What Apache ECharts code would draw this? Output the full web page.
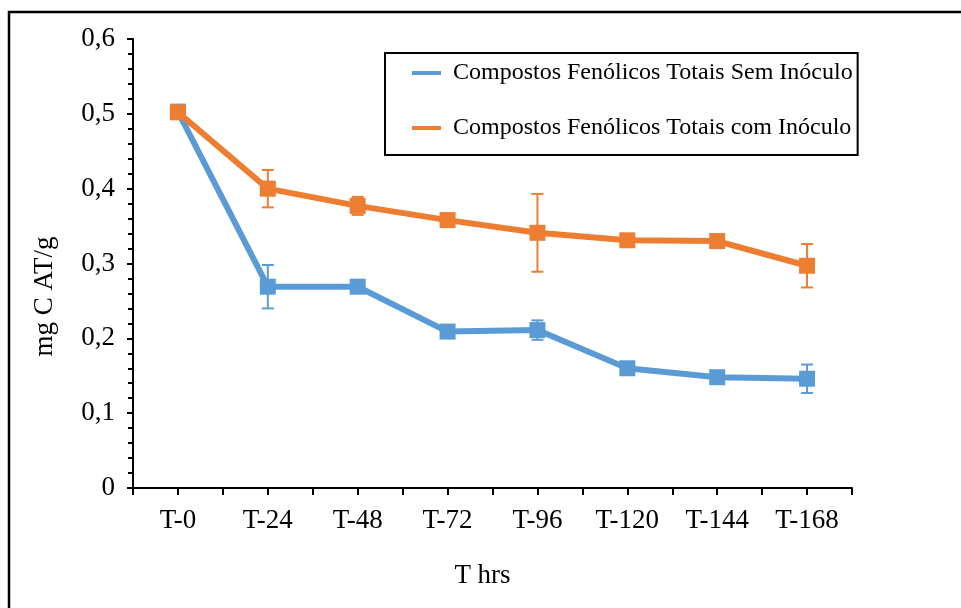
<!DOCTYPE html>
<html>
<head>
<meta charset="utf-8">
<script src="https://cdn.jsdelivr.net/npm/echarts@6/dist/echarts.min.js"></script>
<style>html,body{margin:0;padding:0;background:#fff}#c{width:961px;height:608px}</style>
</head>
<body>
<div id="c"></div>
<script>
const categories = ['T-0','T-24','T-48','T-72','T-96','T-120','T-144','T-168'];
const semName = 'Compostos Fenólicos Totais Sem Inóculo';
const comName = 'Compostos Fenólicos Totais com Inóculo';
const semValues = [0.503, 0.269, 0.269, 0.209, 0.211, 0.160, 0.148, 0.146];
const semErrors = [0.003, 0.029, 0.004, 0.005, 0.013, 0.005, 0.004, 0.019];
const comValues = [0.502, 0.400, 0.377, 0.358, 0.341, 0.331, 0.330, 0.297];
const comErrors = [0.003, 0.025, 0.012, 0.006, 0.052, 0.005, 0.004, 0.029];
const xAxisName = 'T hrs';
const yAxisName = 'mg C AT/g';

const FONT = "'Liberation Serif','Times New Roman',serif";
const BLUE = '#5B9BD5';
const ORANGE = '#ED7D31';

function errData(vals, errs) {
  return vals.map((v, i) => [i, v - errs[i], v + errs[i]]);
}
function errSeries(vals, errs, color) {
  return {
    type: 'custom',
    xAxisIndex: 0,
    yAxisIndex: 0,
    silent: true,
    z: 1,
    data: errData(vals, errs),
    renderItem: function (params, api) {
      const x = api.value(0);
      const lo = api.coord([x, api.value(1)]);
      const hi = api.coord([x, api.value(2)]);
      const w = 6;
      const st = {stroke: color, lineWidth: 2};
      return {
        type: 'group',
        children: [
          {type: 'line', shape: {x1: lo[0], y1: lo[1], x2: hi[0], y2: hi[1]}, style: st},
          {type: 'line', shape: {x1: lo[0]-w, y1: lo[1], x2: lo[0]+w, y2: lo[1]}, style: st},
          {type: 'line', shape: {x1: hi[0]-w, y1: hi[1], x2: hi[0]+w, y2: hi[1]}, style: st}
        ]
      };
    }
  };
}

const chart = echarts.init(document.getElementById('c'));
chart.setOption({
  animation: false,
  backgroundColor: '#fff',
  textStyle: {fontFamily: FONT},
  graphic: [{
    type: 'rect',
    shape: {x: 9, y: 12, width: 1000, height: 700},
    style: {fill: 'none', stroke: '#000', lineWidth: 2.5},
    z: -10
  }],
  grid: {left: 133, right: 109, top: 39, bottom: 120, containLabel: false},
  legend: {
    orient: 'vertical',
    left: 385,
    top: 53,
    padding: [8, 5, 15, 27],
    itemGap: 31,
    itemWidth: 29,
    itemHeight: 4,
    borderColor: '#000',
    borderWidth: 2,
    backgroundColor: '#fff',
    textStyle: {fontFamily: FONT, fontSize: 24, color: '#000', padding: [0, 0, 0, 7]},
    data: [
      {name: semName, icon: 'rect', itemStyle: {color: BLUE}},
      {name: comName, icon: 'rect', itemStyle: {color: ORANGE}}
    ]
  },
  xAxis: [{
    type: 'category',
    position: 'bottom',
    data: categories,
    boundaryGap: true,
    name: xAxisName,
    nameLocation: 'middle',
    nameGap: 74,
    nameTextStyle: {fontFamily: FONT, fontSize: 27, color: '#000', padding: [0, 20, 0, 0]},
    axisLine: {show: true, lineStyle: {color: '#000', width: 2}},
    axisTick: {show: true, length: 7, lineStyle: {color: '#000', width: 2}},
    axisLabel: {fontFamily: FONT, fontSize: 27, color: '#000', margin: 19},
    splitLine: {show: false}
  }, {
    type: 'category',
    position: 'bottom',
    data: categories,
    boundaryGap: true,
    axisLine: {show: false},
    axisTick: {show: true, alignWithLabel: true, length: 7, lineStyle: {color: '#000', width: 2}},
    axisLabel: {show: false},
    splitLine: {show: false}
  }],
  yAxis: {
    type: 'value',
    min: 0,
    max: 0.6,
    interval: 0.1,
    name: yAxisName,
    nameLocation: 'middle',
    nameGap: 75,
    nameTextStyle: {fontFamily: FONT, fontSize: 27, color: '#000', padding: [0, 66, 0, 0]},
    axisLine: {show: true, lineStyle: {color: '#000', width: 2}},
    axisTick: {show: true, length: 6, lineStyle: {color: '#000', width: 2}},
    minorTick: {show: true, splitNumber: 5, length: 5, lineStyle: {color: '#000', width: 2}},
    axisLabel: {
      fontFamily: FONT, fontSize: 27, color: '#000', margin: 18,
      formatter: v => (Math.round(v * 10) / 10).toString().replace('.', ',')
    },
    splitLine: {show: false},
    minorSplitLine: {show: false}
  },
  series: [
    errSeries(semValues, semErrors, BLUE),
    errSeries(comValues, comErrors, ORANGE),
    {
      name: semName,
      type: 'line',
      data: semValues,
      symbol: 'rect',
      symbolSize: 16,
      z: 3,
      lineStyle: {color: BLUE, width: 6},
      itemStyle: {color: BLUE}
    },
    {
      name: comName,
      type: 'line',
      data: comValues,
      symbol: 'rect',
      symbolSize: 16,
      z: 4,
      lineStyle: {color: ORANGE, width: 6},
      itemStyle: {color: ORANGE}
    }
  ]
});
</script>
</body>
</html>
